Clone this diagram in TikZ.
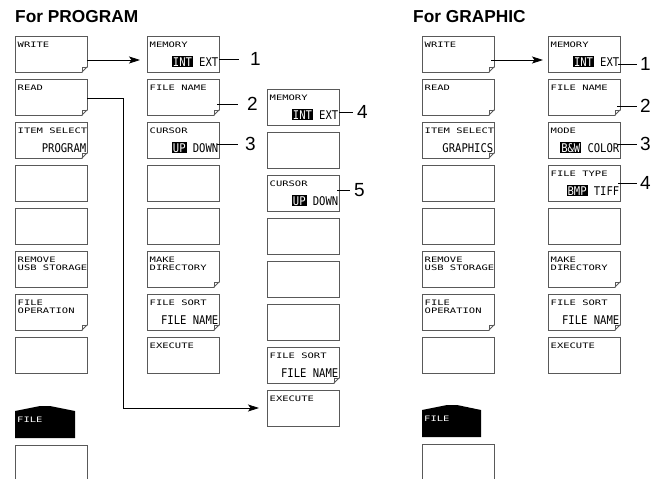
\documentclass[tikz,border=0pt]{standalone}
\usepackage{fontspec}
\setmainfont{Liberation Sans}
\newfontfamily\lblf[FakeStretch=1.4]{DejaVu Sans Mono}
\newfontfamily\valf[FakeStretch=0.88]{DejaVu Sans Mono}
\usetikzlibrary{arrows.meta}
\newcommand\hlt[1]{{\setlength{\fboxsep}{0.8pt}\colorbox{black}{\textcolor{white}{#1}}}}
\newcommand\dogear[1]{%
  \fill[white] ([xshift=-5pt,yshift=-1pt]#1.south east) -- ([xshift=1pt,yshift=-1pt]#1.south east) -- ([xshift=1pt,yshift=5pt]#1.south east) -- cycle;
  \draw[edge] ([xshift=-5pt]#1.south east) -- ([yshift=5pt]#1.south east);
  \draw[edge,line width=0.5pt] ([xshift=-5pt]#1.south east) -- ([xshift=-5pt,yshift=5pt]#1.south east) -- ([yshift=5pt]#1.south east);}
\newcommand\btnT[2]{\node[toplbl] at ([xshift=2.5pt,yshift=-6pt]#1.north west) {#2};}
\newcommand\btnV[2]{\node[vallbl] at ([xshift=-0.5pt,yshift=6pt]#1.south east) {#2};}
\begin{document}
\begin{tikzpicture}[x=1pt,y=-1pt,
  edge/.style={draw=black!65, line width=0.8pt},
  btn/.style={edge, fill=white, minimum width=72pt, minimum height=36pt, anchor=north west, inner sep=0pt, outer sep=0pt},
  toplbl/.style={anchor=north west, inner sep=0pt, font=\lblf\fontsize{7.5}{7.5}\selectfont, align=left},
  vallbl/.style={anchor=base east, inner sep=0pt, font=\valf\fontsize{12}{12}\selectfont},
  conn/.style={draw=black, line width=0.8pt},
  arr/.style={conn, -{Stealth[length=11pt,width=7pt,inset=2.5pt]}},
  num/.style={anchor=west, inner sep=0pt, font=\fontsize{19}{19}\selectfont},
  title/.style={anchor=base west, inner sep=0pt, font=\bfseries\fontsize{17.3}{17.3}\selectfont}]
\useasboundingbox (0,0) rectangle (654,479);
\clip (0,0) rectangle (654,479);

% titles
\node[title] (t1) at (15,22) {For PROGRAM};
\node[title] (t2) at (413,22) {For GRAPHIC};

% columns of buttons
\foreach \i in {1,...,8} {
  \node[btn] (a\i) at (15,{36+43*(\i-1)}) {};
  \node[btn] (b\i) at (147,{36+43*(\i-1)}) {};
  \node[btn] (c\i) at (267,{89+43*(\i-1)}) {};
  \node[btn] (d\i) at (422,{36+43*(\i-1)}) {};
  \node[btn] (e\i) at (548,{36+43*(\i-1)}) {};
}
\node[btn] (a9) at (15,445) {};
\node[btn] (d9) at (422,444) {};

% folded corners
\foreach \n in {a1,a2,a3,a7,b2,b6,b7,c7,d1,d2,d3,d7,e2,e6,e7} {\dogear{\n}}

% FILE tabs
\fill[black] (15,438) -- (15,411) -- (40,406) -- (50,406) -- (75,411) -- (75,438) -- cycle;
\node[toplbl,text=white] (ftab1) at (17,417) {FILE};
\fill[black] (422,437) -- (422,410) -- (447,405) -- (457,405) -- (481,410) -- (481,437) -- cycle;
\node[toplbl,text=white] (ftab2) at (424,416) {FILE};

% PROGRAM column 1
\btnT{a1}{WRITE}
\btnT{a2}{READ}
\btnT{a3}{ITEM SELECT}\btnV{a3}{PROGRAM}
\btnT{a6}{REMOVE\\USB STORAGE}
\btnT{a7}{FILE\\OPERATION}
% PROGRAM column 2
\btnT{b1}{MEMORY}\btnV{b1}{\hlt{INT} EXT}
\btnT{b2}{FILE NAME}
\btnT{b3}{CURSOR}\btnV{b3}{\hlt{UP} DOWN}
\btnT{b6}{MAKE\\DIRECTORY}
\btnT{b7}{FILE SORT}\btnV{b7}{FILE NAME}
\btnT{b8}{EXECUTE}
% PROGRAM column 3
\btnT{c1}{MEMORY}\btnV{c1}{\hlt{INT} EXT}
\btnT{c3}{CURSOR}\btnV{c3}{\hlt{UP} DOWN}
\btnT{c7}{FILE SORT}\btnV{c7}{FILE NAME}
\btnT{c8}{EXECUTE}
% GRAPHIC column 1
\btnT{d1}{WRITE}
\btnT{d2}{READ}
\btnT{d3}{ITEM SELECT}\btnV{d3}{GRAPHICS}
\btnT{d6}{REMOVE\\USB STORAGE}
\btnT{d7}{FILE\\OPERATION}
% GRAPHIC column 2
\btnT{e1}{MEMORY}\btnV{e1}{\hlt{INT} EXT}
\btnT{e2}{FILE NAME}
\btnT{e3}{MODE}\btnV{e3}{\hlt{B\&W} COLOR}
\btnT{e4}{FILE TYPE}\btnV{e4}{\hlt{BMP} TIFF}
\btnT{e6}{MAKE\\DIRECTORY}
\btnT{e7}{FILE SORT}\btnV{e7}{FILE NAME}
\btnT{e8}{EXECUTE}

% arrows
\draw[arr] ([yshift=-6pt]a1.east) -- ([yshift=-6pt,xshift=-7pt]b1.west);
\draw[arr] ([yshift=-1pt]a2.east) -- ++(36,0) |- ([xshift=-8pt]c8.west);
\draw[arr] ([yshift=-6pt,xshift=-3pt]d1.east) -- ([yshift=-6pt,xshift=-5pt]e1.west);

% numbered callouts
\node[num] (n1) at (250,59) {1};
\node[num] (n2) at (247,104) {2};
\node[num] (n3) at (245,144) {3};
\node[num] (n4) at (357,112) {4};
\node[num] (n5) at (354,190) {5};
\draw[conn] (b1.east |- n1) -- ([xshift=-11pt]n1.west);
\draw[conn] ([xshift=-2pt]b2.east |- n2) -- ([xshift=-9pt]n2.west);
\draw[conn] ([xshift=-2pt]b3.east |- n3) -- ([xshift=-7pt]n3.west);
\draw[conn] (c1.east |- n4) -- ([xshift=-4pt]n4.west);
\draw[conn] ([xshift=-2pt]c3.east |- n5) -- ([xshift=-4pt]n5.west);

\node[num] (m1) at (640,64) {1};
\node[num] (m2) at (640,106) {2};
\node[num] (m3) at (640,144) {3};
\node[num] (m4) at (640,183) {4};
\draw[conn] ([xshift=-2pt]e1.east |- m1) -- ([xshift=-3pt]m1.west);
\draw[conn] ([xshift=-3pt]e2.east |- m2) -- ([xshift=-3pt]m2.west);
\draw[conn] ([xshift=-2pt]e3.east |- m3) -- ([xshift=-3pt]m3.west);
\draw[conn] ([xshift=-2pt]e4.east |- m4) -- ([xshift=-3pt]m4.west);
\end{tikzpicture}
\end{document}
